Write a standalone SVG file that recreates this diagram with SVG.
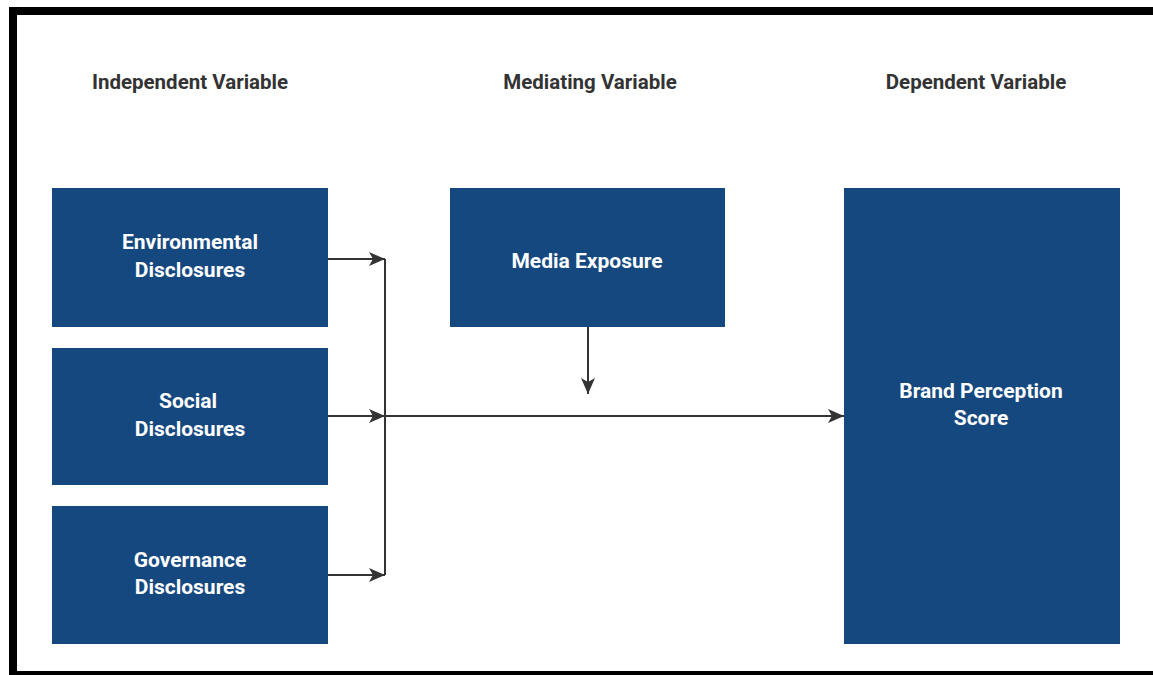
<svg xmlns="http://www.w3.org/2000/svg" width="1153" height="675" viewBox="0 0 1153 675">
<style>
.box{fill:#15487f;}
.lbl{font-family:Roboto,"Liberation Sans",sans-serif;font-weight:bold;font-size:21px;fill:#ffffff;text-anchor:middle;}
.hdr{font-family:Roboto,"Liberation Sans",sans-serif;font-weight:bold;font-size:20.5px;fill:#333333;text-anchor:middle;}
.ln{stroke:#333333;stroke-width:2;fill:none;}
</style>
<defs>
<marker id="ah" viewBox="0 0 16 16" refX="16" refY="8" markerWidth="16" markerHeight="16" markerUnits="userSpaceOnUse" orient="auto">
<path d="M0,1 L16,8 L0,15 L4,8 Z" fill="#333333"/>
</marker>
</defs>
<rect x="0" y="0" width="1153" height="675" fill="#ffffff"/>
<g id="frame">
<rect x="9" y="7" width="1144" height="8" fill="#000000"/>
<rect x="9" y="7" width="8" height="668" fill="#000000"/>
<rect x="9" y="671" width="1144" height="4" fill="#000000"/>
</g>
<g id="headers">
<text class="hdr" x="190" y="89">Independent Variable</text>
<text class="hdr" x="590" y="89">Mediating Variable</text>
<text class="hdr" x="976" y="89">Dependent Variable</text>
</g>
<g id="env">
<rect class="box" x="52" y="188" width="276" height="139"/>
<text class="lbl" x="190" y="249">Environmental</text>
<text class="lbl" x="190" y="277">Disclosures</text>
</g>
<g id="social">
<rect class="box" x="52" y="348" width="276" height="137"/>
<text class="lbl" x="188" y="408">Social</text>
<text class="lbl" x="190" y="436">Disclosures</text>
</g>
<g id="gov">
<rect class="box" x="52" y="506" width="276" height="138"/>
<text class="lbl" x="190" y="567">Governance</text>
<text class="lbl" x="190" y="594">Disclosures</text>
</g>
<g id="media">
<rect class="box" x="450" y="188" width="275" height="139"/>
<text class="lbl" x="587" y="268">Media Exposure</text>
</g>
<g id="brand">
<rect class="box" x="844" y="188" width="276" height="456"/>
<text class="lbl" x="981" y="398">Brand Perception</text>
<text class="lbl" x="981" y="425">Score</text>
</g>
<g id="connectors">
<line class="ln" x1="385" y1="259" x2="385" y2="575"/>
<line class="ln" x1="328" y1="259" x2="385" y2="259" marker-end="url(#ah)"/>
<line class="ln" x1="328" y1="416" x2="385" y2="416" marker-end="url(#ah)"/>
<line class="ln" x1="328" y1="575" x2="385" y2="575" marker-end="url(#ah)"/>
<line class="ln" x1="385" y1="416" x2="844" y2="416" marker-end="url(#ah)"/>
<line class="ln" x1="588" y1="327" x2="588" y2="394" marker-end="url(#ah)"/>
</g>
</svg>
